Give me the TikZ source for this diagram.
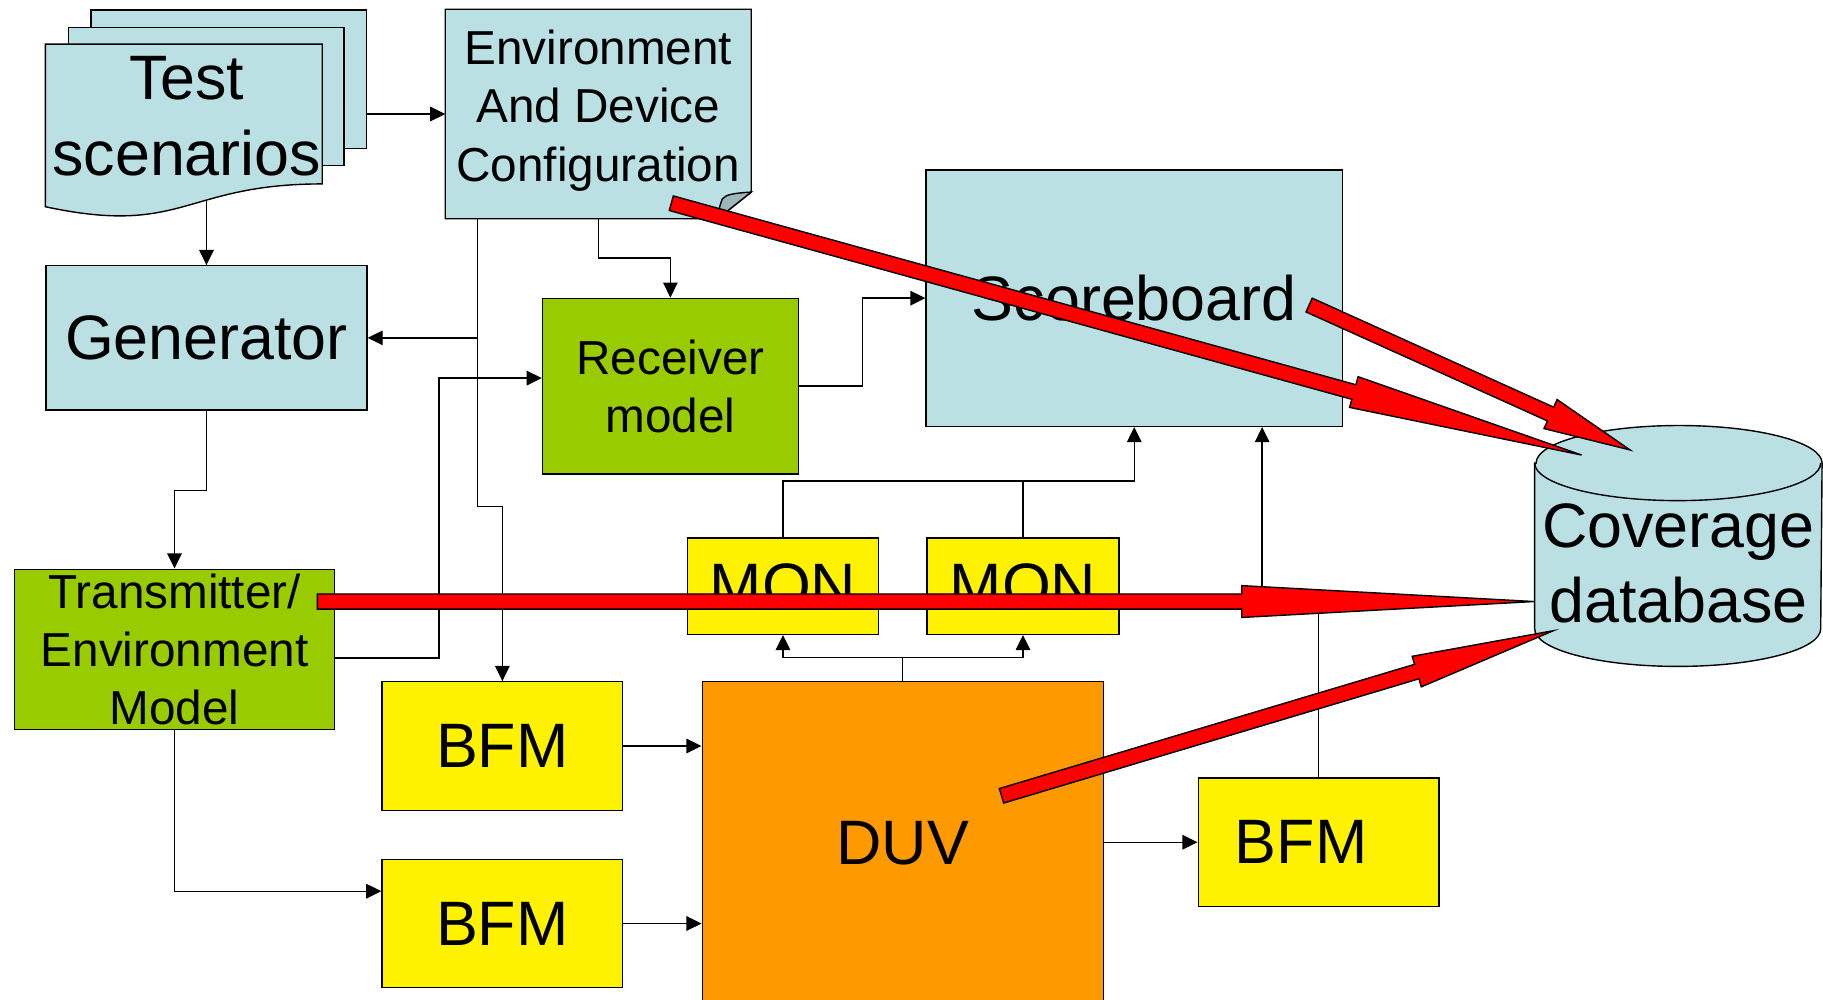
\documentclass[tikz,border=0pt]{standalone}
\usepackage{fontspec}
\setmainfont{Liberation Sans}
\usepackage{tikz}
\usetikzlibrary{shapes,arrows.meta,positioning,calc}
\definecolor{paleblue}{HTML}{BBE0E3}
\definecolor{leafgreen}{HTML}{99CC00}
\definecolor{duvorange}{HTML}{FF9900}
\definecolor{foldblue}{HTML}{9CB6BA}
\newcommand{\fatarrow}[3]{%
  \coordinate (fahead) at ($(#2)!#3!(#1)$);
  \filldraw[redarrow] ($(#1)!6.5pt!90:(#2)$) -- ($(fahead)!6.5pt!90:(#2)$) -- ($(fahead)!13.7pt!90:(#2)$) -- (#2)
    -- ($(fahead)!13.7pt!-90:(#2)$) -- ($(fahead)!6.5pt!-90:(#2)$) -- ($(#1)!6.5pt!-90:(#2)$) -- cycle;}

\begin{document}
\begin{tikzpicture}[x=1pt, y=1pt,
  block/.style={rectangle, draw, line width=1.2pt, inner sep=0pt, align=center, anchor=north west},
  blueblock/.style={block, fill=paleblue},
  greenblock/.style={block, fill=leafgreen},
  yellowblock/.style={block, fill=yellow},
  sheet/.style={blueblock, minimum width=237pt, minimum height=119pt},
  bigtext/.style={font=\fontsize{54}{65}\selectfont, align=center},
  midtext/.style={font=\fontsize{41}{50}\selectfont, align=center},
  monblock/.style={yellowblock, bigtext, minimum height=83pt},
  bfmblock/.style={yellowblock, bigtext, minimum width=207pt, minimum height=110.5pt},
  arrow/.style={-{Triangle[length=13pt, width=12.5pt]}, line width=1.2pt},
  wire/.style={line width=1.2pt},
  redarrow/.style={fill=red, draw=black, line width=1.2pt, line join=miter}]
\useasboundingbox (0,0) rectangle (1568,860);
\node[sheet] (tsback) at (77.5,852) {};
\node[sheet] (tsmid) at (58.2,837) {};
\node[block, draw=none, minimum width=237pt, minimum height=119pt] (ts) at (39,822) {};
\filldraw[fill=paleblue, line width=1.2pt] (ts.north west) -- (ts.north east) -- (ts.south east)
  .. controls (ts.south) and ([yshift=-45.3pt]ts.south) .. ([yshift=-19.6pt]ts.south west) coordinate[pos=0.392] (tsbot) -- cycle;
\node[bigtext] (tstext) at ([xshift=2.5pt, yshift=-1.8pt]ts.center) {Test\\scenarios};
\node[block, draw=none, minimum width=262pt, minimum height=179pt] (env) at (383,852) {};
\filldraw[fill=paleblue, line width=1.2pt] (env.north west) -- (env.north east) -- ([yshift=23pt]env.south east)
  -- ([xshift=-29pt]env.south east) -- (env.south west) -- cycle;
\filldraw[fill=foldblue, line width=1.2pt] ([yshift=23pt]env.south east) .. controls +(-15,-1) and +(3,4) .. ([xshift=-25pt, yshift=17pt]env.south east)
  .. controls +(-2,-6) and +(0,6) .. ([xshift=-29pt]env.south east) -- cycle;
\node[midtext] (envtext) at ([yshift=3pt]env.center) {Environment\\And Device\\Configuration};
\node[blueblock, bigtext, minimum width=276pt, minimum height=124pt] (gen) at (39,632) {Generator};
\node[greenblock, midtext, minimum width=220pt, minimum height=151pt] (rx) at (466,604) {Receiver\\model};
\node[blueblock, bigtext, minimum width=358pt, minimum height=220.5pt] (sb) at (796,714.4) {Scoreboard};
\node[block, draw=none, minimum width=246pt, minimum height=206pt] (db) at (1320,494) {};
\filldraw[fill=paleblue, line width=1.2pt] ([yshift=-32.3pt]db.north west) -- ([yshift=32.3pt]db.south west)
  arc[start angle=180, end angle=360, x radius=123pt, y radius=32.3pt] -- ([yshift=-32.3pt]db.north east)
  arc[start angle=0, end angle=180, x radius=123pt, y radius=32.3pt] -- cycle;
\draw[line width=1.2pt] ([yshift=-32.3pt]db.north west) arc[start angle=180, end angle=360, x radius=123pt, y radius=32.3pt];
\node[bigtext] (dbtext) at ([yshift=-15pt]db.center) {Coverage\\database};
\node[greenblock, midtext, minimum width=275pt, minimum height=138pt] (tx) at (12,371) {Transmitter/\\Environment\\Model};
\node[monblock, minimum width=164.3pt] (mon1) at (590.7,398) {MON};
\node[monblock, minimum width=165pt, right=40.6pt of mon1] (mon2) {MON};
\node[bfmblock] (bfm1) at (328,274.2) {BFM};
\node[bfmblock, below=41pt of bfm1] (bfm2) {BFM};
\node[block, bigtext, fill=duvorange, minimum width=345pt, minimum height=278pt] (duv) at (603.4,274.2) {DUV};
\node[bfmblock] (bfm3) at (1030,191.4) {BFM\hspace*{30pt}};
\draw[arrow] (env.west -| tsback.east) -- (env.west);
\draw[arrow] (tsbot -| gen.north) -- (gen.north);
\draw[arrow] ([xshift=27.7pt]env.south west) -- ++(0,-247.5) -| (bfm1.north);
\draw[arrow] ([xshift=27.7pt]env.south west |- gen.east) -- (gen.east);
\draw[arrow] (env.south) -- ++(0,-33.8) -| (rx.north);
\draw[arrow] (gen.south) -- ++(0,-68.8) -| (tx.north);
\draw[arrow] ([yshift=-7.3pt]tx.east) -- ++(89.3,0) |- ([yshift=6.9pt]rx.west);
\draw[arrow] (tx.south) |- ([yshift=27.8pt]bfm2.west);
\draw[arrow] (rx.east) -- ++(54.6,0) |- (sb.west);
\draw[arrow] (bfm1.east) -- (bfm1.east -| duv.west);
\draw[arrow] (bfm2.east) -- (bfm2.east -| duv.west);
\draw[arrow] (duv.east |- bfm3.west) -- (bfm3.west);
\draw[arrow] (duv.north) -- ++(0,20.4) -| (mon1.south);
\draw[arrow] (duv.north) ++(0,20.4) -| (mon2.south);
\draw[arrow] (mon1.north) -- ++(0,48.3) -| (sb.south);
\draw[wire] (mon2.north) -- ++(0,48.3);
\draw[arrow] (bfm3.north) -- ++(0,152) -| ([xshift=110pt]sb.south);
\coordinate (cfgtail) at (577.4,685.2);
\coordinate (sbtail) at (1126,597.6);
\coordinate (txtail) at (273,342.6);
\coordinate (duvtail) at (861.4,175.5);
\coordinate (dbtip1) at (1360.4,468.6);
\coordinate (dbtip2) at (1402,473);
\coordinate (dbtip3) at (1319.5,342.6);
\coordinate (dbtip4) at (1336,317.5);
\fatarrow{cfgtail}{dbtip1}{203.3pt}
\fatarrow{sbtail}{dbtip2}{75pt}
\fatarrow{txtail}{dbtip3}{251.5pt}
\fatarrow{duvtail}{dbtip4}{122.6pt}
\end{tikzpicture}
\end{document}
